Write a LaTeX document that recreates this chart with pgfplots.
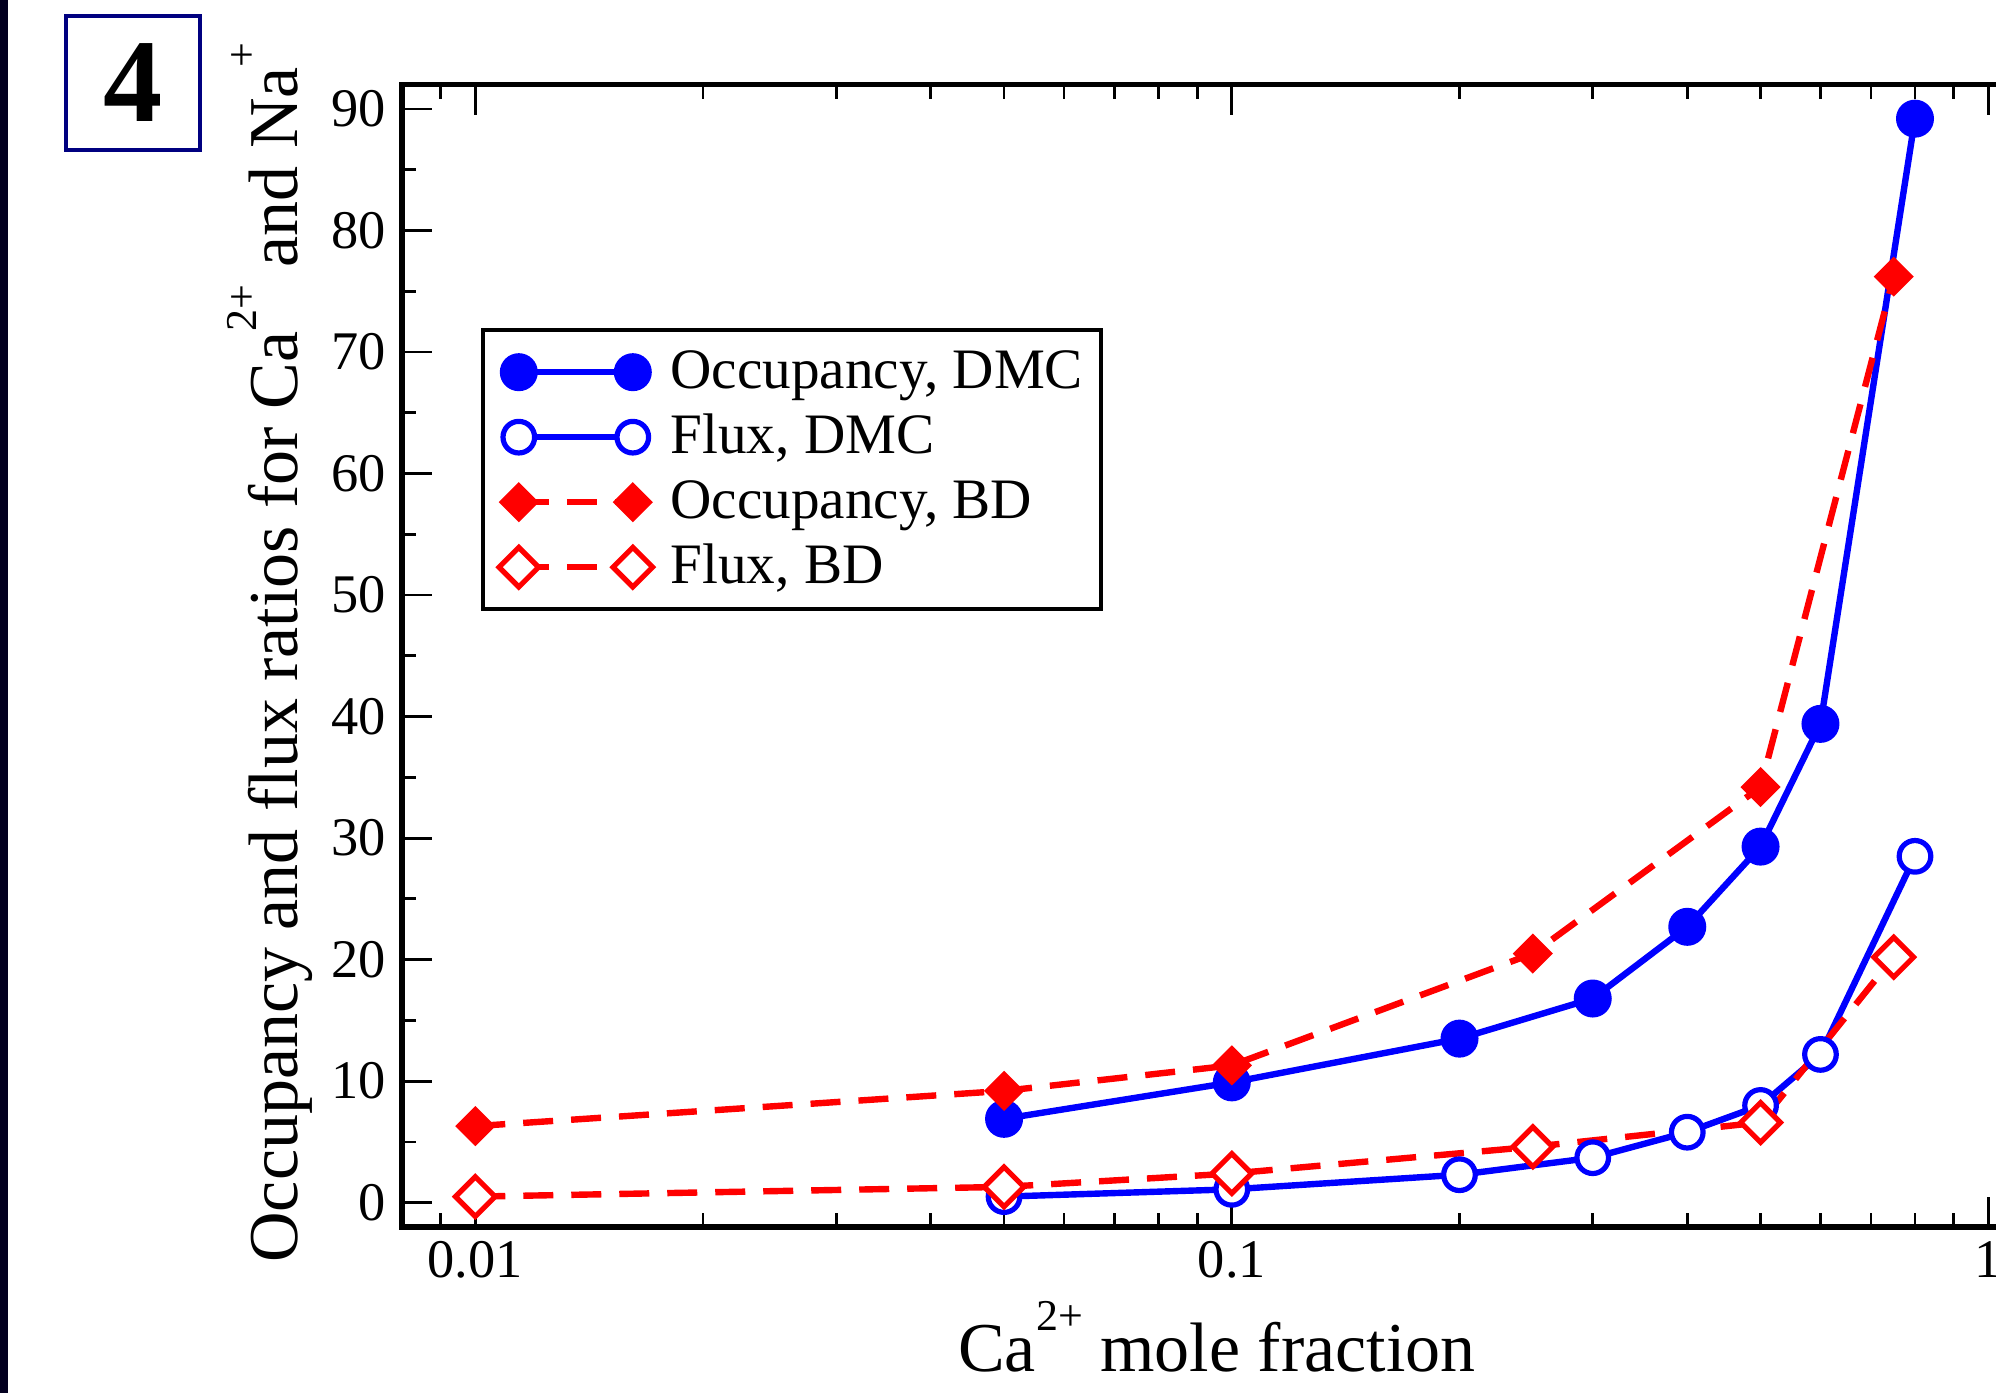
\documentclass[border=0pt]{standalone}
\usepackage{fontspec}
\setmainfont{Liberation Serif}
\usepackage{pgfplots}
\pgfplotsset{compat=1.18}

\definecolor{navyframe}{RGB}{0,0,128}
\definecolor{darkstrip}{RGB}{3,0,32}

% raised small superscript, grace style
\newcommand{\sups}[1]{\raisebox{10.4pt}{\fontsize{11}{11}\selectfont #1}}

\begin{document}
\begin{tikzpicture}
\fill[darkstrip] (0,0) rectangle (2pt,348.25pt);
\node[draw=navyframe, line width=0.8pt, minimum width=33.5pt, minimum height=33.5pt,
      inner sep=0pt, font=\fontsize{29.6}{30}\selectfont\bfseries] at (33.25pt,327.5pt) {4};

\begin{axis}[
    at={(100.5pt,41.5pt)}, anchor=south west,
    scale only axis, width=411.55pt, height=285.6pt,
    xmode=log, xmin=0.008, xmax=1.2,
    ymin=-2, ymax=92,
    xtick={0.01,0.1,1}, xticklabels={0.01,0.1,1},
    minor xtick={0.009,0.02,0.03,0.04,0.05,0.06,0.07,0.08,0.09,0.2,0.3,0.4,0.5,0.6,0.7,0.8,0.9},
    ytick={0,10,...,90}, minor ytick={5,15,...,85},
    tick pos=both, tick align=inside,
    major tick length=7.5pt, minor tick length=3.5pt,
    every tick/.style={black, line width=0.7pt},
    axis line style={line width=1.4pt},
    /pgf/number format/assume math mode=true,
    ticklabel style={font=\fontsize{13.6}{14}\selectfont},
    yticklabel style={inner xsep=3.75pt},
    xlabel={Ca\sups{2+} mole fraction},
    ylabel={Occupancy and flux ratios for Ca\sups{2+} and Na\sups{+}},
    label style={font=\fontsize{17.5}{18}\selectfont},
    xlabel style={at={([yshift=-36.25pt]axis description cs:0.495,0)}, anchor=base},
    ylabel style={at={([xshift=-26pt]axis description cs:0,0.503)}, anchor=base},
    legend image code/.code={\draw plot coordinates {(0pt,0pt) (28.5pt,0pt)};},
    legend cell align=left,
    legend style={at={(0.048,0.7869)}, anchor=north west, draw=black, line width=1pt,
        font=\fontsize{14.3}{16}\selectfont, inner xsep=4pt, inner ysep=2.4pt,
        row sep=0pt, column sep=4pt,
        nodes={inner sep=0.5pt, text height=11.6pt, text depth=3.65pt}},
]
\addplot[blue, line width=1.6pt, mark=*, mark size=4.5pt,
    mark options={solid, line width=0.5pt}] coordinates {
    (0.05,6.9) (0.1,9.9) (0.2,13.5) (0.3,16.8) (0.4,22.7) (0.5,29.3) (0.6,39.4) (0.8,89.2)
};
\addplot[blue, line width=1.6pt, mark=*, mark size=3.95pt,
    mark options={solid, line width=1.3pt, fill=white, draw=blue}] coordinates {
    (0.05,0.5) (0.1,1.1) (0.2,2.3) (0.3,3.7) (0.4,5.8) (0.5,8.0) (0.6,12.2) (0.8,28.5)
};
\addplot[red, line width=1.6pt, dash pattern=on 7.5pt off 4.5pt, mark=square*, mark size=3.3pt,
    mark options={solid, rotate=45, line width=0.5pt}] coordinates {
    (0.01,6.3) (0.05,9.2) (0.1,11.3) (0.25,20.5) (0.5,34.2) (0.75,76.2)
};
\addplot[red, line width=1.6pt, dash pattern=on 7.5pt off 4.5pt, mark=square*, mark size=3.5pt,
    mark options={solid, rotate=45, line width=1.3pt, fill=white, draw=red}] coordinates {
    (0.01,0.5) (0.05,1.3) (0.1,2.4) (0.25,4.6) (0.5,6.6) (0.75,20.2)
};
\legend{{Occupancy, DMC}, {Flux, DMC}, {Occupancy, BD}, {Flux, BD}}
\end{axis}
\pgfresetboundingbox
\path[use as bounding box] (0,0) rectangle (499pt,348.25pt);
\end{tikzpicture}
\end{document}
